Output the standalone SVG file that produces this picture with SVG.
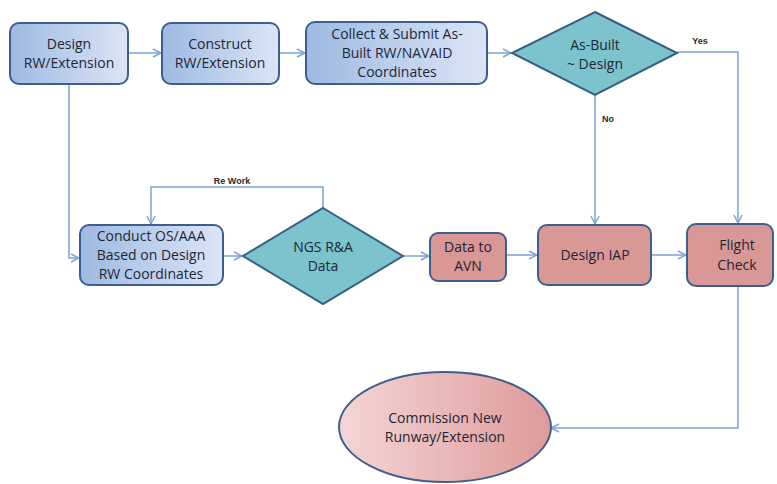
<svg xmlns="http://www.w3.org/2000/svg" width="777" height="484" viewBox="0 0 777 484">
  <defs>
    <linearGradient id="blueFill" x1="0" y1="0" x2="1" y2="0">
      <stop offset="0" stop-color="#9fb9e3"/>
      <stop offset="1" stop-color="#dbe5f6"/>
    </linearGradient>
    <linearGradient id="pinkFill" x1="0" y1="0" x2="1" y2="0">
      <stop offset="0" stop-color="#f4d6d6"/>
      <stop offset="1" stop-color="#de9a99"/>
    </linearGradient>
    <marker id="arrow" viewBox="0 0 10 10" refX="9" refY="5" markerWidth="10" markerHeight="10" markerUnits="userSpaceOnUse" orient="auto">
      <path d="M1,1 L9,5 L1,9" fill="none" stroke="#7ea2d2" stroke-width="1.4"/>
    </marker>
    <style>
      .box-blue { fill: url(#blueFill); stroke: #3d5f8f; stroke-width: 2; }
      .box-red { fill: #d99795; stroke: #3d5f8f; stroke-width: 2; }
      .decision { fill: #7cc3cd; stroke: #345f80; stroke-width: 2; }
      .terminal { fill: url(#pinkFill); stroke: #3d5f8f; stroke-width: 2; }
      .link { fill: none; stroke: #7ea2d2; stroke-width: 1.5; }
      .label { font-family: "Open Sans", "Liberation Sans", sans-serif; font-size: 14px; fill: #1e2633; text-anchor: middle; }
      .small { font-family: "Liberation Sans", sans-serif; font-size: 9px; font-weight: bold; fill: #2a2a2a; text-anchor: middle; }
    </style>
  </defs>
  <rect width="777" height="484" fill="#ffffff"/>

  <!-- connectors -->
  <g id="connectors">
    <path class="link" d="M128,53 H161" marker-end="url(#arrow)"/>
    <path class="link" d="M279,53 H305" marker-end="url(#arrow)"/>
    <path class="link" d="M487,53 H511" marker-end="url(#arrow)"/>
    <path class="link" d="M677,52 H738 V223" marker-end="url(#arrow)"/>
    <path class="link" d="M595,95 V224" marker-end="url(#arrow)"/>
    <path class="link" d="M69,84 V258 H79" marker-end="url(#arrow)"/>
    <path class="link" d="M323,208 V187 H151 V224" marker-end="url(#arrow)"/>
    <path class="link" d="M223,256 H242" marker-end="url(#arrow)"/>
    <path class="link" d="M403,256 H429" marker-end="url(#arrow)"/>
    <path class="link" d="M506,255 H537" marker-end="url(#arrow)"/>
    <path class="link" d="M651,255 H686" marker-end="url(#arrow)"/>
    <path class="link" d="M738,286 V428 H551" marker-end="url(#arrow)"/>
    <text class="small" x="700" y="44">Yes</text>
    <text class="small" x="608" y="122">No</text>
    <text class="small" x="232" y="184">Re Work</text>
  </g>

  <g id="design-rw">
    <rect class="box-blue" x="10" y="23" width="118" height="61" rx="9"/>
    <text class="label" x="69" y="49">Design</text>
    <text class="label" x="69" y="68">RW/Extension</text>
  </g>

  <g id="construct-rw">
    <rect class="box-blue" x="162" y="23" width="117" height="61" rx="9"/>
    <text class="label" x="220" y="49">Construct</text>
    <text class="label" x="220" y="68">RW/Extension</text>
  </g>

  <g id="collect-submit">
    <rect class="box-blue" x="306" y="22" width="181" height="62" rx="9"/>
    <text class="label" x="397" y="39">Collect &amp; Submit As-</text>
    <text class="label" x="397" y="58">Built RW/NAVAID</text>
    <text class="label" x="397" y="77">Coordinates</text>
  </g>

  <g id="as-built-check">
    <polygon class="decision" points="595,12 677,53 595,95 512,53"/>
    <text class="label" x="595" y="50">As-Built</text>
    <text class="label" x="595" y="69">~ Design</text>
  </g>

  <g id="conduct-os">
    <rect class="box-blue" x="80" y="225" width="143" height="60" rx="9"/>
    <text class="label" x="151" y="241">Conduct OS/AAA</text>
    <text class="label" x="151" y="260">Based on Design</text>
    <text class="label" x="151" y="279">RW Coordinates</text>
  </g>

  <g id="ngs-data">
    <polygon class="decision" points="323,208 403,256 323,304 243,256"/>
    <text class="label" x="323" y="252">NGS R&amp;A</text>
    <text class="label" x="323" y="271">Data</text>
  </g>

  <g id="data-to-avn">
    <rect class="box-red" x="430" y="233" width="76" height="48" rx="8"/>
    <text class="label" x="468" y="252">Data to</text>
    <text class="label" x="468" y="271">AVN</text>
  </g>

  <g id="design-iap">
    <rect class="box-red" x="538" y="225" width="113" height="60" rx="9"/>
    <text class="label" x="595" y="260">Design IAP</text>
  </g>

  <g id="flight-check">
    <rect class="box-red" x="687" y="224" width="86" height="62" rx="9"/>
    <text class="label" x="737" y="250">Flight</text>
    <text class="label" x="737" y="270">Check</text>
  </g>

  <g id="commission">
    <ellipse class="terminal" cx="445" cy="427" rx="106" ry="55"/>
    <text class="label" x="445" y="423">Commission New</text>
    <text class="label" x="445" y="442">Runway/Extension</text>
  </g>
</svg>
